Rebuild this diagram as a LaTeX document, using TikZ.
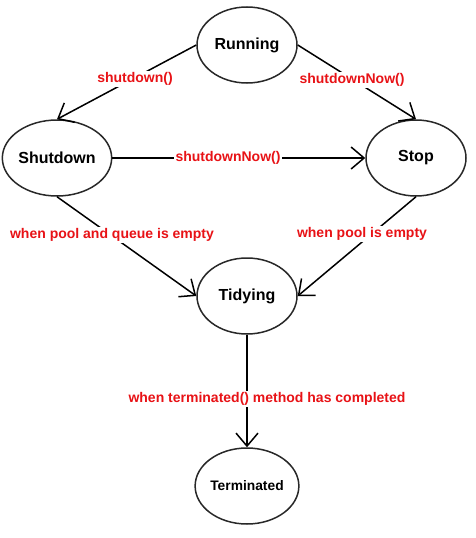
\documentclass[tikz,border=0pt]{standalone}
\usepackage{fontspec}
\setmainfont{Liberation Sans}
\usetikzlibrary{shapes.geometric,arrows.meta}
\definecolor{lblred}{RGB}{232,18,22}
\definecolor{edgegray}{RGB}{40,40,40}
\tikzset{
  state/.style={ellipse, draw=edgegray, line width=1.5pt, minimum width=100pt, minimum height=76pt, inner sep=0pt, font=\fontsize{16}{19}\selectfont\bfseries},
  trans/.style={line width=1.5pt, -{Straight Barb[length=13pt,width=22pt,line width=1.5pt]}},
  lbl/.style={fill=white, inner sep=1.5pt, text=lblred, font=\fontsize{14}{17}\selectfont\bfseries}
}
\begin{document}
\begin{tikzpicture}[x=1pt,y=-1pt]
\useasboundingbox (0,0) rectangle (476,538);
\node[state] (run) at (247,45) {Running};
\node[state] (sd) at (57,158) {Shutdown};
\node[state] (stop) at (416,158) {Stop};
\node[state] (tid) at (247,296) {Tidying};
\node[state, font=\fontsize{13.8}{16}\selectfont\bfseries] (term) at (247,486) {Terminated};

\draw[trans] (run.west) -- (sd.north);
\draw[trans] (run.east) -- (stop.north);
\draw[trans] (sd.east) -- (stop.west);
\draw[trans] (sd.south) -- (tid.west);
\draw[trans] (stop.south) -- (tid.east);
\draw[trans] (tid.south) -- (term.north);

\node[lbl] (l1) at (135,79) {shutdown()};
\node[lbl] (l2) at (352,80) {shutdownNow()};
\node[lbl] (l3) at (228,158) {shutdownNow()};
\node[lbl] (l4) at (112,235) {when pool and queue is empty};
\node[lbl] (l5) at (362,234) {when pool is empty};
\node[lbl] (l6) at (267,399) {when terminated() method has completed};
\end{tikzpicture}
\end{document}
